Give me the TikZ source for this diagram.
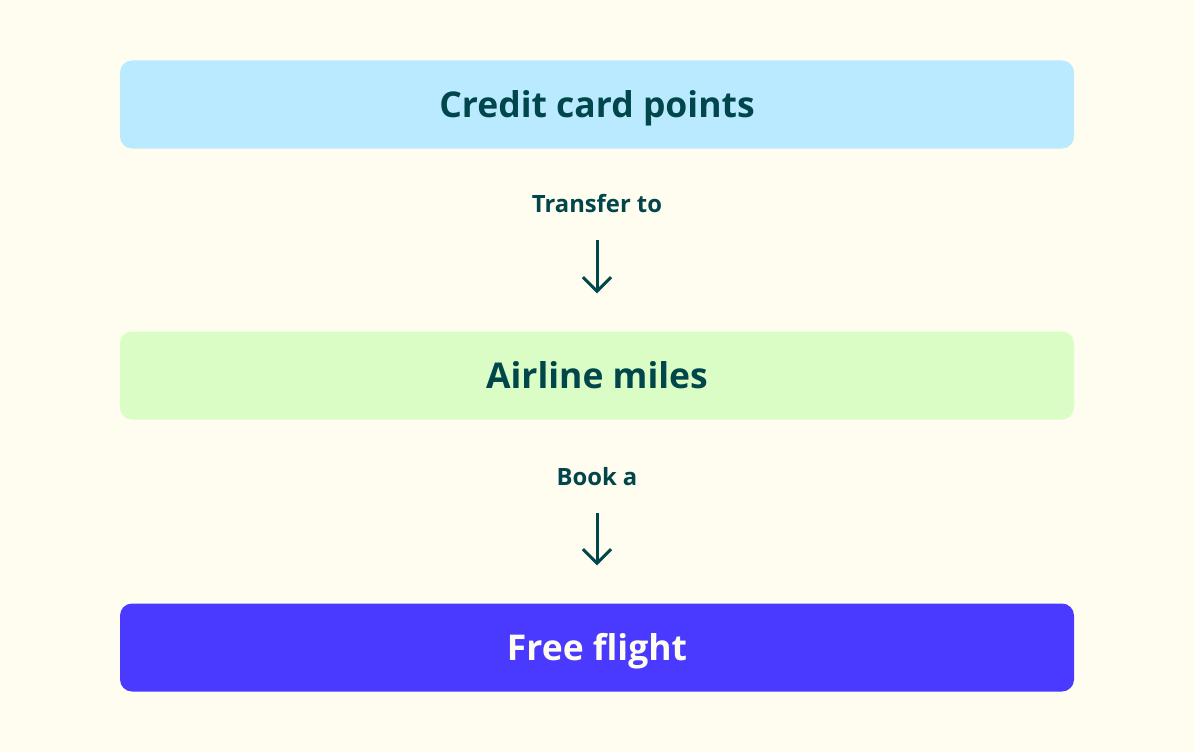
\documentclass[tikz,border=0pt]{standalone}
\usepackage{fontspec}
\setmainfont{Open Sans}
\usetikzlibrary{arrows.meta}
\definecolor{bgcream}{HTML}{FFFDF0}
\definecolor{tealink}{HTML}{00464A}
\definecolor{pointsblue}{HTML}{BAEAFF}
\definecolor{milesgreen}{HTML}{D9FDC4}
\definecolor{flightviolet}{HTML}{4A3AFF}
\begin{document}
\begin{tikzpicture}[x=1pt,y=-1pt,
    box/.style={minimum width=954pt,minimum height=88pt,rounded corners=12pt,inner sep=0pt,
      text height=25pt,text depth=0pt,
      font=\fontsize{35.5}{40}\selectfont\bfseries,text=tealink},
    steplabel/.style={inner sep=0pt,text height=17pt,text depth=0pt,
      font=\fontsize{23.8}{27}\selectfont\bfseries,text=tealink},
    flow/.style={draw=tealink,line width=3pt,-{Straight Barb[length=14pt,width=28pt]}}]
      \fill[bgcream] (0,0) rectangle (1194,752);
      \useasboundingbox (0,0) rectangle (1194,752);

      \path (597, 104.5) node[box,fill=pointsblue] (points)  {Credit card points};
      \path (597, 203.5) node[steplabel] (transfer)  {Transfer to};
      \path (597, 375.5) node[box,fill=milesgreen] (miles)  {Airline miles};
      \path (597, 476.5) node[steplabel] (book)  {Book a};
      \path (597, 647.5) node[box,fill=flightviolet,text=bgcream] (flight)  {Free flight};

      \draw[flow,shorten <=28pt,shorten >=38pt] (transfer) -- (miles); %transfer-miles
      \draw[flow,shorten <=28pt,shorten >=38pt] (book) -- (flight); %book-flight

\end{tikzpicture}
\end{document}
